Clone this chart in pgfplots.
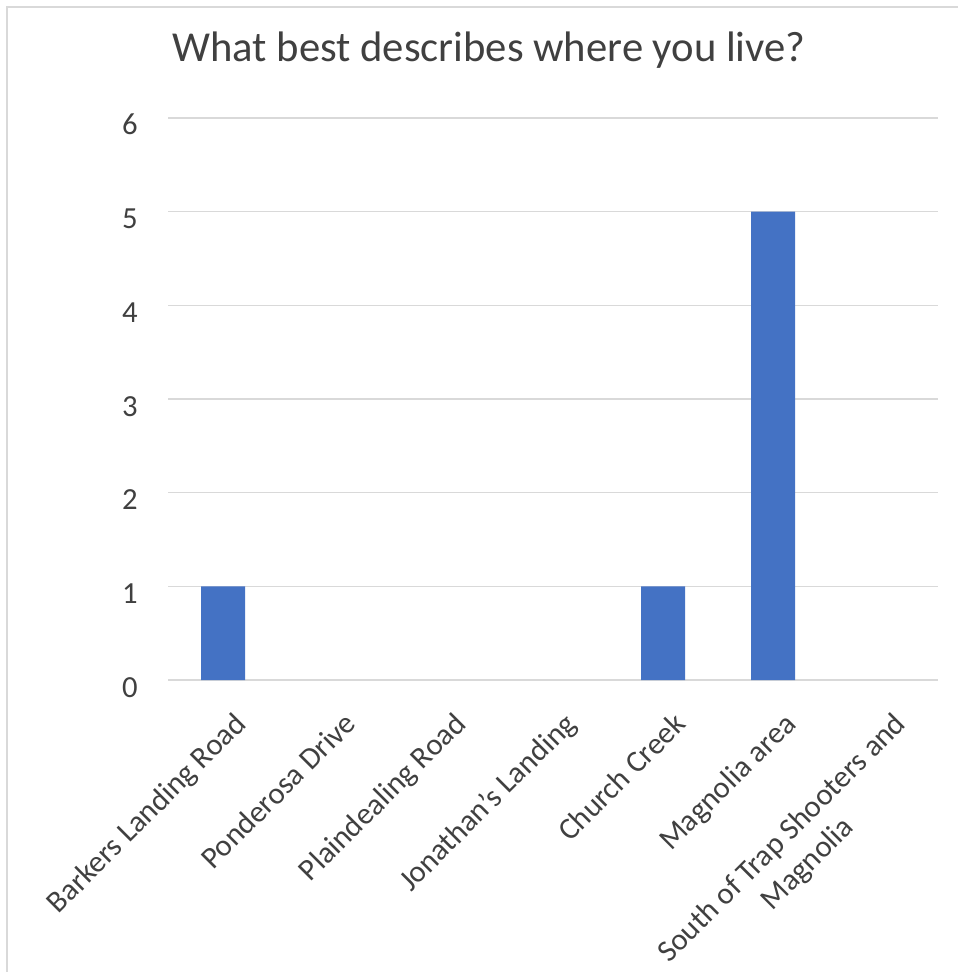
\documentclass[border=0pt]{standalone}
\usepackage{pgfplots}
\pgfplotsset{compat=1.18}
\usepackage{fontspec}
\setmainfont{Carlito}
\definecolor{txt}{HTML}{404040}
\definecolor{gridc}{HTML}{D9D9D9}
\definecolor{barc}{HTML}{4472C4}
\begin{document}
\begin{tikzpicture}[x=0.75pt,y=0.75pt]
\useasboundingbox (0,0) rectangle (958,972);
\draw[gridc, line width=1.1pt] (7,0) -- (7,965) -- (958,965);
\node[anchor=base, text=txt, font=\fontsize{32}{38}\selectfont, inner sep=0pt] at (489,910) {What best describes where you live?};
\begin{axis}[
  at={(126pt,219pt)}, anchor=south west,
  scale only axis, width=577.5pt, height=421.5pt,
  xmin=-0.5, xmax=6.5, ymin=0, ymax=6,
  ytick={0,1,2,3,4,5,6},
  xtick={0,1,2,3,4,5,6},
  xticklabels={Barkers Landing Road, Ponderosa Drive, Plaindealing Road, Jonathan’s Landing, Church Creek, Magnolia area, {South of Trap Shooters and\\Magnolia}},
  major tick length=0pt,
  axis line style={draw=none},
  ymajorgrids, major grid style={gridc, line width=1.1pt},
  xmajorgrids=false,
  ybar, bar width=33pt,
  tick label style={text=txt, font=\fontsize{23}{27}\selectfont},
  yticklabel style={anchor=base east, inner sep=0pt, xshift=-22.5pt, yshift=-12.75pt},
  xticklabel style={rotate=45, anchor=north east, inner sep=0pt, align=center, xshift=-11pt, yshift=-21pt},
  /pgf/number format/assume math mode=true,
  clip=false,
]
\addplot[fill=barc, draw=none, y filter/.expression={y==0 ? nan : y}, unbounded coords=discard] coordinates {(0,1) (1,0) (2,0) (3,0) (4,1) (5,5) (6,0)};
\end{axis}
\end{tikzpicture}
\end{document}
